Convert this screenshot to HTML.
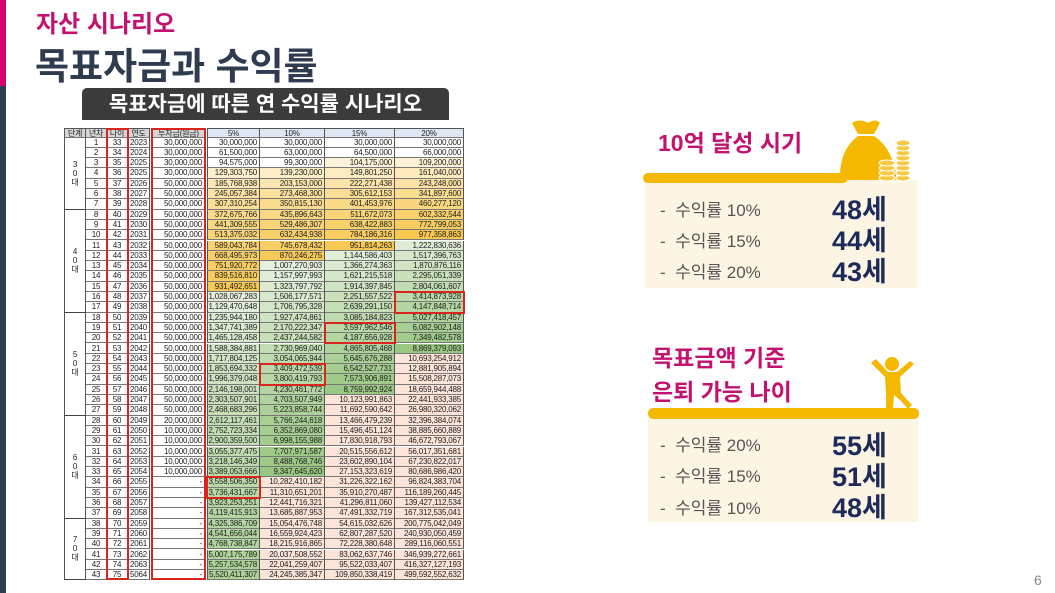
<!DOCTYPE html>
<html><head><meta charset="utf-8">
<style>
body{margin:0;width:1055px;height:593px;overflow:hidden;background:#fff;position:relative;font-family:"Liberation Sans","Noto Sans CJK KR",sans-serif;}
.a{position:absolute;}
.c{position:absolute;box-sizing:border-box;border-right:1px solid #555;border-bottom:1px solid #777;font-size:8px;line-height:10px;color:#222;white-space:nowrap;overflow:hidden;letter-spacing:-0.2px;}
.r{text-align:right;padding-right:2px;}
.m{text-align:center;}
.box{position:absolute;border:2px solid #d9261c;box-sizing:border-box;}
.ln{position:absolute;font-size:17px;color:#555;}
.big{position:absolute;font-size:27px;font-weight:bold;color:#1d2a5c;}
</style></head><body>
<div class="a" style="left:0;top:0;width:6px;height:86px;background:#d6006e"></div>
<div class="a" style="left:0;top:86px;width:6px;height:507px;background:#2f3b4e"></div>
<div class="a" style="left:36px;top:4px;font-size:24px;font-weight:bold;color:#c4106e">자산 시나리오</div>
<div class="a" style="left:35px;top:36px;font-size:37px;font-weight:bold;color:#2f3b4e">목표자금과 수익률</div>
<div class="a" style="left:82px;top:88px;width:367px;height:32px;background:#3b3b3b;border-radius:5px 5px 0 0;color:#fff;font-size:21px;font-weight:bold;text-align:center;line-height:33px">목표자금에 따른 연 수익률 시나리오</div>
<div id="t"></div>

<div class="a" style="left:658px;top:124px;font-size:23px;font-weight:bold;color:#c4106e">10억 달성 시기</div>
<div class="a" style="left:645px;top:180px;width:272px;height:108px;background:#fdf5e3"></div>
<div class="a" style="left:643px;top:173px;width:205px;height:10px;background:#f5b800;border-radius:5px"></div>
<svg class="a" style="left:835px;top:118px" width="80" height="68" viewBox="0 0 80 68">
<path d="M17 5 Q25 0 33 5 Q41 0 45 5 L39 16 L23 16 Z" fill="#f5b800"/>
<path d="M23 18 L39 18 Q58 30 62 62 L5 62 Q4 32 23 18 Z" fill="#f5b800"/>
<g fill="#f7c842" stroke="#fff" stroke-width="1"><ellipse cx="52" cy="60" rx="8" ry="3"/><ellipse cx="52" cy="55" rx="8" ry="3"/><ellipse cx="52" cy="50" rx="8" ry="3"/><ellipse cx="52" cy="45" rx="8" ry="3"/>
<ellipse cx="68" cy="60" rx="7" ry="3"/><ellipse cx="68" cy="55" rx="7" ry="3"/><ellipse cx="68" cy="50" rx="7" ry="3"/><ellipse cx="68" cy="45" rx="7" ry="3"/><ellipse cx="68" cy="40" rx="7" ry="3"/><ellipse cx="68" cy="35" rx="7" ry="3"/><ellipse cx="68" cy="30" rx="7" ry="3"/><ellipse cx="68" cy="25" rx="7" ry="3"/></g>
</svg>
<div class="ln" style="left:660px;top:196px">-&nbsp;&nbsp;수익률 10%</div><div class="big" style="left:832px;top:188px">48세</div>
<div class="ln" style="left:660px;top:227px">-&nbsp;&nbsp;수익률 15%</div><div class="big" style="left:832px;top:219px">44세</div>
<div class="ln" style="left:660px;top:258px">-&nbsp;&nbsp;수익률 20%</div><div class="big" style="left:832px;top:250px">43세</div>

<div class="a" style="left:652px;top:341px;font-size:23px;font-weight:bold;color:#c4106e;line-height:34px">목표금액 기준<br>은퇴 가능 나이</div>
<div class="a" style="left:648px;top:418px;width:270px;height:104px;background:#fdf5e3"></div>
<div class="a" style="left:648px;top:408px;width:271px;height:11px;background:#f5b800;border-radius:5px"></div>
<svg class="a" style="left:868px;top:355px" width="50" height="56" viewBox="0 0 50 56">
<circle cx="24" cy="9" r="7" fill="#f5b800"/>
<path d="M3 8 L17 22 L18 38 L18 54 L25 54 L26 40 L33 46 L40 54 L44 50 L33 38 L32 22 L46 9 L42 6 L29 17 L20 17 L8 4 Z" fill="#f5b800"/>
</svg>
<div class="ln" style="left:660px;top:431px">-&nbsp;&nbsp;수익률 20%</div><div class="big" style="left:832px;top:424px">55세</div>
<div class="ln" style="left:660px;top:462px">-&nbsp;&nbsp;수익률 15%</div><div class="big" style="left:832px;top:455px">51세</div>
<div class="ln" style="left:660px;top:494px">-&nbsp;&nbsp;수익률 10%</div><div class="big" style="left:832px;top:486px">48세</div>

<div class="a" style="left:1034px;top:572px;font-size:14px;color:#888">6</div>

<script>
var D=[
[30000000,30000000,30000000,30000000],[61500000,63000000,64500000,66000000],[94575000,99300000,104175000,109200000],
[129303750,139230000,149801250,161040000],[185768938,203153000,222271438,243248000],[245057384,273468300,305612153,341897600],
[307310254,350815130,401453976,460277120],[372675766,435896643,511672073,602332544],[441309555,529486307,638422883,772799053],
[513375032,632434938,784186316,977358863],[589043784,745678432,951814263,1222830636],[668495973,870246275,1144586403,1517396763],
[751920772,1007270903,1366274363,1870876116],[839516810,1157997993,1621215518,2295051339],[931492651,1323797792,1914397845,2804061607],
[1028067283,1506177571,2251557522,3414873928],[1129470648,1706795328,2639291150,4147848714],[1235944180,1927474861,3085184823,5027418457],
[1347741389,2170222347,3597962546,6082902148],[1465128458,2437244582,4187656928,7349482578],[1588384881,2730969040,4865805468,8869379093],
[1717804125,3054065944,5645676288,10693254912],[1853694332,3409472539,6542527731,12881905894],[1996379048,3800419793,7573906891,15508287073],
[2146198001,4230461772,8759992924,18659944488],[2303507901,4703507949,10123991863,22441933385],[2468683296,5223858744,11692590642,26980320062],
[2612117461,5766244618,13466479239,32396384074],[2752723334,6352869080,15496451124,38885660889],[2900359500,6998155988,17830918793,46672793067],
[3055377475,7707971587,20515556612,56017351681],[3218146349,8488768746,23602890104,67230822017],[3389053666,9347645620,27153323619,80686986420],
[3558506350,10282410182,31226322162,96824383704],[3736431667,11310651201,35910270487,116189260445],[3923253251,12441716321,41296811060,139427112534],
[4119415913,13685887953,47491332719,167312535041],[4325386709,15054476748,54615032626,200775042049],[4541656044,16559924423,62807287520,240930050459],
[4768738847,18215916865,72228380648,289116060551],[5007175789,20037508552,83062637746,346939272661],[5257534578,22041259407,95522033407,416327127193],
[5520411307,24245385347,109850338419,499592552632]];
function fmt(n){return n.toLocaleString('en-US');}
function mix(a,b,t){return 'rgb('+a.map(function(v,i){return Math.round(v+(b[i]-v)*t)}).join(',')+')';}
function col(v){
 if(v<100000000)return '#fff';
 if(v<1e9){var t=Math.log(v/1e8)/Math.log(10);return mix([254,244,218],[248,200,80],t);}
 if(v<1e10){var t=Math.log(v/1e9)/Math.log(10);return mix([230,240,222],[150,198,126],t);}
 return '#fce4d8';
}
var h='',y0=128,hh=9.5,rh=10.3;
var X=[64,86,107,128,150],inv=[152,205],V=[207,260,325,395,464];
function cell(x,y,w,ht,txt,cls,bg,extra){return '<div class="c '+cls+'" style="left:'+x+'px;top:'+y+'px;width:'+w+'px;height:'+ht+'px;background:'+bg+';'+(extra||'')+'">'+txt+'</div>';}
var hd=['단계','년차','나이','연도'];
for(var i=0;i<4;i++)h+=cell(X[i],y0,X[i+1]-X[i],hh,hd[i],'m','#d6d6d6','border-top:1px solid #555;'+(i==0?'border-left:1px solid #555;':'')+'line-height:9px');
h+=cell(inv[0],y0,inv[1]-inv[0],hh,'투자금(원금)','m','#d6d6d6','border-top:1px solid #555;border-left:1px solid #555;line-height:9px');
var hp=['5%','10%','15%','20%'];
for(var i=0;i<4;i++)h+=cell(V[i],y0,V[i+1]-V[i],hh,hp[i],'m','#dde8f4','border-top:1px solid #555;'+(i==0?'border-left:1px solid #555;':'')+'line-height:9px');
var G=[[1,7,'3<br>0<br>대'],[8,17,'4<br>0<br>대'],[18,27,'5<br>0<br>대'],[28,37,'6<br>0<br>대'],[38,43,'7<br>0<br>대']];
G.forEach(function(g){var t=y0+hh+(g[0]-1)*rh,b=y0+hh+g[1]*rh;h+='<div class="c m" style="left:64px;top:'+t+'px;width:22px;height:'+(b-t)+'px;border-left:1px solid #555;border-bottom:1px solid #444;display:flex;align-items:center;justify-content:center;line-height:9px;font-size:8px">'+g[2]+'</div>';});
for(var r=0;r<43;r++){
 var y=y0+hh+r*rh,n=r+1,age=33+r,yr=(r<4?[2023,2024,2025,2025][r]:(r==42?5064:2026+r-4));
 var inv_=r<4?'30,000,000':(r<27?'50,000,000':(r==27?'20,000,000':(r<33?'10,000,000':'-')));
 h+=cell(86,y,21,rh,n,'m','#fff');h+=cell(107,y,21,rh,age,'m','#fff');h+=cell(128,y,22,rh,yr,'m','#fff');
 h+=cell(152,y,53,rh,inv_,'r','#fff','border-left:1px solid #555');
 for(var k=0;k<4;k++)h+=cell(V[k],y,V[k+1]-V[k],rh,fmt(D[r][k]),'r',col(D[r][k]),k==0?'border-left:1px solid #555':'');
}
var tTop=y0,tBot=y0+hh+43*rh;
h+='<div class="box" style="left:106px;top:'+tTop+'px;width:23px;height:'+(tBot-tTop)+'px"></div>';
h+='<div class="box" style="left:151px;top:'+tTop+'px;width:55px;height:'+(tBot-tTop)+'px"></div>';
function rb(c,r1){h+='<div class="box" style="left:'+(V[c]-1)+'px;top:'+(y0+hh+(r1-1)*rh-1)+'px;width:'+(V[c+1]-V[c]+2)+'px;height:'+(2*rh+2)+'px"></div>';}
rb(3,16);rb(2,19);rb(1,23);rb(0,34);
document.getElementById('t').innerHTML=h;
</script>
</body></html>
